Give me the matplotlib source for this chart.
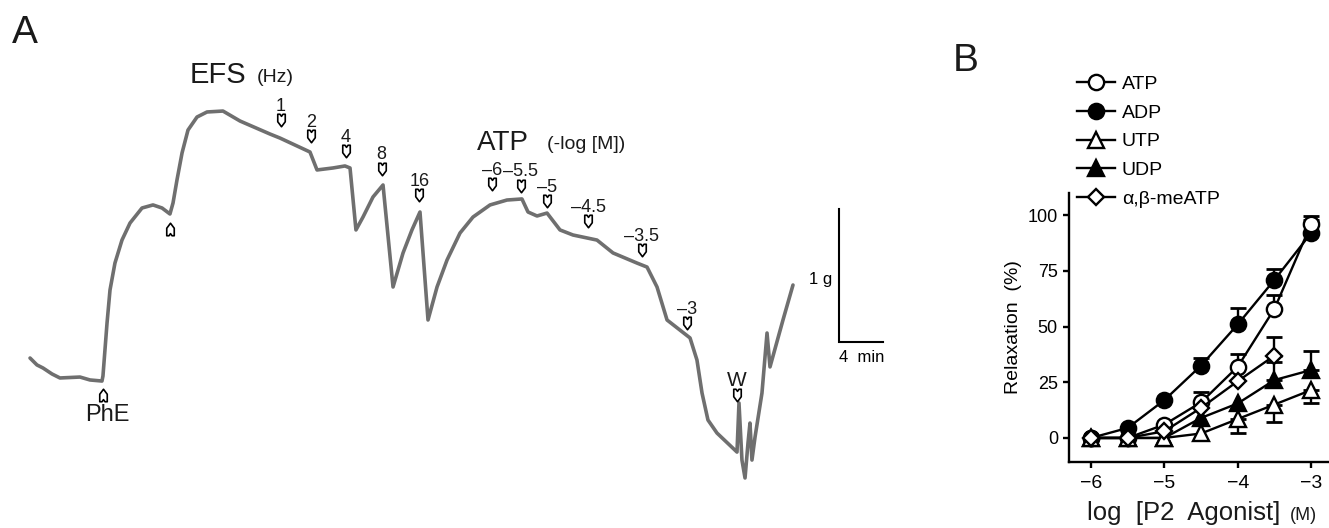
import numpy as np
import matplotlib
matplotlib.use("Agg")
import matplotlib.pyplot as plt
from matplotlib.path import Path

plt.rcParams['font.family'] = ['Liberation Sans', 'DejaVu Sans']

# ---------------- Panel A data: isometric tension trace ----------------
trace_t = [2.73, 3.36, 3.91, 4.73, 5.45, 7.27, 8.18, 9.27, 9.36, 9.73,
           10.0, 10.45, 11.09, 11.82, 12.91, 13.91, 14.73, 15.45, 15.73, 16.09,
           16.55, 17.09, 17.91, 18.82, 20.27, 21.82, 24.55, 25.45, 28.18, 28.82,
           30.27, 31.36, 31.82, 32.36, 33.0, 33.91, 34.82, 35.73, 36.64, 37.45,
           38.18, 38.91, 39.73, 40.64, 41.82, 43.0, 44.55, 46.09, 47.45, 48.0,
           48.82, 49.73, 50.91, 52.09, 54.27, 55.73, 57.91, 58.82, 59.73, 60.64,
           62.73, 63.36, 63.82, 64.36, 65.18, 67.0, 67.18, 67.45, 67.73, 68.0,
           68.18, 68.36, 68.64, 69.27, 69.73, 70.0, 71.18, 72.09]
trace_g = [1.278, 1.226, 1.203, 1.158, 1.128, 1.135, 1.113, 1.105, 1.143, 1.541,
           1.789, 1.992, 2.165, 2.293, 2.406, 2.429, 2.406, 2.361, 2.444, 2.617,
           2.820, 2.992, 3.090, 3.128, 3.135, 3.060, 2.962, 2.932, 2.827, 2.692,
           2.707, 2.722, 2.707, 2.241, 2.338, 2.489, 2.579, 1.812, 2.068, 2.241,
           2.376, 1.564, 1.812, 2.015, 2.218, 2.338, 2.429, 2.466, 2.474, 2.376,
           2.346, 2.368, 2.241, 2.203, 2.165, 2.068, 1.992, 1.962, 1.812, 1.564,
           1.429, 1.263, 1.015, 0.812, 0.714, 0.571, 0.940, 0.511, 0.376, 0.639,
           0.789, 0.511, 0.684, 1.015, 1.466, 1.211, 1.564, 1.827]

# drug / stimulation events (down arrows with labels above)
event_t = [25.52, 28.25, 31.43, 34.70, 38.12, 44.70, 47.34, 49.70, 53.48, 58.34, 62.43, 66.97]
event_g = [3.068, 2.944, 2.835, 2.703, 2.504, 2.583, 2.575, 2.459, 2.305, 2.090, 1.538, 1.000]
event_labels = ['1', '2', '4', '8', '16', '–6', '–5.5', '–5', '–4.5', '–3.5', '–3', 'W']

# up arrows (PhE addition and EFS start)
up_t = [9.36, 15.45]
up_g = [1.000, 2.248]
up_labels = ['PhE', '']

scale_g = 1.0     # 1 g
scale_min = 4.0   # 4 min

# ---------------- Panel B data: concentration-response ----------------
log_conc = [-6, -5.5, -5, -4.5, -4, -3.5, -3]
atp = [0, 0, 6, 16, 32, 58, 96]
atp_err = [0, 0, 0, 4.5, 5.5, 6, 3.5]
adp = [0, 4.5, 17, 32.5, 51, 71, 92]
adp_err = [0, 0, 0, 3.5, 7.5, 5, 6]
utp = [0, 0, 0, 2, 8.5, 15, 21.5]
utp_err = [0, 0, 0, 0, 6.5, 8, 6]
udp = [0, 0, 0, 9, 15.5, 26, 30.5]
udp_err = [0, 0, 0, 0, 0, 8, 8.5]
me_conc = [-6, -5.5, -5, -4.5, -4, -3.5]
meatp = [0, 0, 3, 13.5, 25.5, 37]
meatp_err = [0, 0, 0, 0, 0, 8.5]

W, H = 1329, 528
fig = plt.figure(figsize=(W / 100, H / 100), dpi=100)

# ---------------- Panel A ----------------
axa = fig.add_axes([0, 0, 1, 1])
axa.set_xlim(0, W / 11.0)      # 11 px per min
axa.set_ylim(0, H / 133.0)     # 133 px per g
axa.axis('off')

axa.plot(trace_t, trace_g, color='#6f6f6f', lw=2.6, solid_joinstyle='round',
         solid_capstyle='round', zorder=2)

down_arrow = Path([(-0.3, 0.5), (-0.3, -0.1), (0, -0.5), (0.3, -0.1), (0.3, 0.5),
                   (0.12, 0.5), (0, 0.33), (-0.12, 0.5), (-0.3, 0.5)],
                  [Path.MOVETO] + [Path.LINETO] * 7 + [Path.CLOSEPOLY])
up_arrow = Path([(x, -y) for x, y in down_arrow.vertices], down_arrow.codes)

axa.plot(event_t, event_g, ls='none', marker=down_arrow, ms=9, mfc='white',
         mec='black', mew=1.2, zorder=3)
axa.plot(up_t, up_g, ls='none', marker=up_arrow, ms=9, mfc='white',
         mec='black', mew=1.2, zorder=3)

for t, g, lab in zip(event_t, event_g, event_labels):
    fs = 15 if lab == 'W' else 13
    axa.annotate(lab, (t, g), xytext=(0, 6.5), textcoords='offset points',
                 ha='center', va='baseline', fontsize=fs, color='#1a1a1a')
for t, g, lab in zip(up_t, up_g, up_labels):
    if lab:
        axa.annotate(lab, (t, g), xytext=(3, -6.5), textcoords='offset points',
                     ha='center', va='top', fontsize=17, color='#1a1a1a')

# scale bar
sb_t, sb_g = 839 / 11.0, (H - 342) / 133.0
axa.plot([sb_t, sb_t, sb_t + scale_min], [sb_g + scale_g, sb_g, sb_g],
         color='black', lw=1.5, solid_joinstyle='miter')
axa.text(sb_t - 0.6, sb_g + 0.47, '1 g', ha='right', va='center', fontsize=12)
axa.text(sb_t, sb_g - 0.06, '4  min', ha='left', va='top', fontsize=12)

def ftext(x, y, s, **kw):
    fig.text(x / W, 1 - y / H, s, **kw)

ftext(12, 43, 'A', fontsize=28, va='baseline', color='#1a1a1a')
ftext(953, 71, 'B', fontsize=28, va='baseline', color='#1a1a1a')
ftext(190, 83, 'EFS', fontsize=21, va='baseline', color='#1a1a1a')
ftext(257, 82, '(Hz)', fontsize=14, va='baseline', color='#1a1a1a')
ftext(477, 150, 'ATP', fontsize=20, va='baseline', color='#1a1a1a')
ftext(547, 149, '(-log [M])', fontsize=14, va='baseline', color='#1a1a1a')

# ---------------- Panel B ----------------
axb = fig.add_axes([1069 / W, 1 - 462 / H, 259 / W, 269 / H])
axb.set_xlim(-6.3, -2.77)
axb.set_ylim(-10.8, 110)
for s in ['top', 'right']:
    axb.spines[s].set_visible(False)
for s in ['left', 'bottom']:
    axb.spines[s].set_linewidth(1.7)
axb.tick_params(direction='out', length=4, width=1.7, pad=4)
axb.tick_params(axis='y', labelsize=13)
axb.tick_params(axis='x', labelsize=14, pad=5)
axb.set_xticks([-6, -5, -4, -3])
axb.set_yticks([0, 25, 50, 75, 100])

series = [
    ('ADP', log_conc, adp, adp_err, 'up', 'o', 'black', 11, 4),
    ('ATP', log_conc, atp, atp_err, 'up', 'o', 'white', 11, 5),
    ('UDP', log_conc, udp, udp_err, 'up', '^', 'black', 11, 6),
    ('UTP', log_conc, utp, utp_err, 'down', '^', 'white', 11, 7),
    ('α,β-meATP', me_conc, meatp, meatp_err, 'up', 'D', 'white', 8.5, 8),
]
handles = {}
for name, xs, ys, es, direction, mk, fc, ms, z in series:
    xs = np.array(xs, float); ys = np.array(ys, float); es = np.array(es, float)
    m = es > 0
    if m.any():
        zeros = np.zeros(m.sum())
        yerr = [zeros, es[m]] if direction == 'up' else [es[m], zeros]
        axb.errorbar(xs[m], ys[m], yerr=yerr, fmt='none', ecolor='black',
                     elinewidth=1.7, capsize=6, capthick=2.0, zorder=z - 0.5)
    h, = axb.plot(xs, ys, '-', color='black', lw=1.7, marker=mk, ms=ms,
                  mfc=fc, mec='black', mew=1.7, zorder=z, clip_on=False)
    handles[name] = h

order = ['ATP', 'ADP', 'UTP', 'UDP', 'α,β-meATP']
leg = axb.legend([handles[k] for k in order], order, loc='upper left',
                 bbox_to_anchor=(1077 / W, 1 - 75 / H), bbox_transform=fig.transFigure,
                 frameon=False, fontsize=14, handlelength=1.95, handletextpad=0.36,
                 labelspacing=0.58, borderpad=0, borderaxespad=0, numpoints=1)

axb.set_ylabel('Relaxation  (%)', fontsize=14, labelpad=4)
ftext(1087, 520, 'log  [P2  Agonist]', fontsize=18.5, va='baseline', color='#1a1a1a')
ftext(1290, 520, '(M)', fontsize=13, va='baseline', color='#1a1a1a')

fig.savefig('out.png', dpi=100)
